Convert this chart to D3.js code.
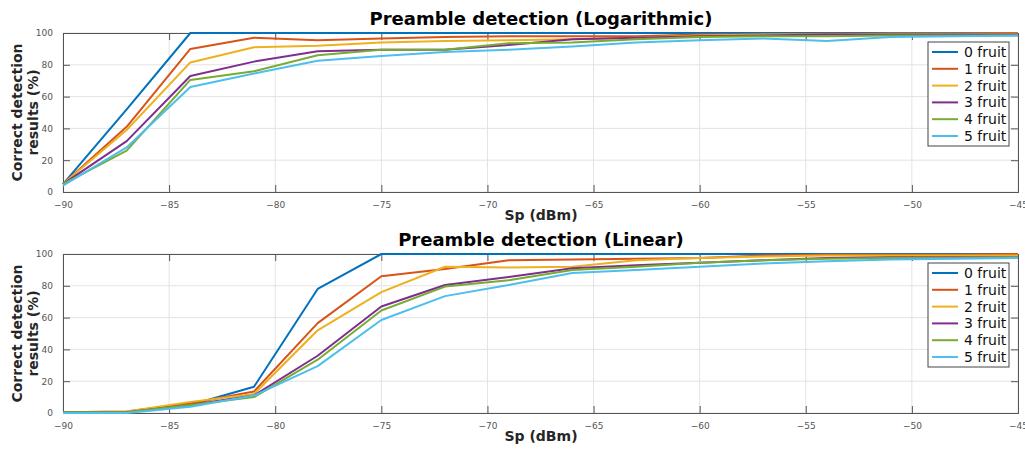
<!DOCTYPE html>
<html lang="en">
<head>
<meta charset="utf-8">
<title>Preamble detection</title>
<style>
  body { margin: 0; background: #fff; }
  svg { display: block; font-family: "DejaVu Sans", sans-serif; }
</style>
</head>
<body>
<svg id="chart"></svg>
<script src="https://d3js.org/d3.v7.min.js"></script>
<script>
// data
var sp = [-90, -87, -84, -81, -78, -75, -72, -69, -66, -63, -60, -57, -54, -51, -48, -45];
var seriesNames = ['0 fruit', '1 fruit', '2 fruit', '3 fruit', '4 fruit', '5 fruit'];
var colors = ['#0072BD', '#D95319', '#EDB120', '#7E2F8E', '#77AC30', '#4DBEEE'];
var xTicks = [-90, -85, -80, -75, -70, -65, -60, -55, -50, -45];
var yTicks = [0, 20, 40, 60, 80, 100];

// logarithmic
var log0 = [5, 52, 100, 100, 100, 100, 100, 100, 100, 100, 100, 100, 100, 100, 100, 100];
var log1 = [5, 41, 90, 97, 95.5, 96.5, 97.5, 98, 98, 98, 99, 99, 99.5, 99.5, 99.5, 100];
var log2 = [5, 39, 81.5, 91, 92, 94, 95, 95.5, 96, 97, 98.5, 99, 99, 99.5, 99.5, 99.5];
var log3 = [5, 32, 73, 82, 88.5, 89.5, 89.5, 92.5, 96, 97, 98, 98.5, 99, 99, 99, 99];
var log4 = [5, 26, 70.5, 76, 86, 89.5, 89.5, 93.5, 94, 96, 97.5, 98, 98, 98.5, 98.5, 98.5];
var log5 = [4, 28, 66, 74.5, 82.5, 85.5, 88, 89.5, 91.5, 94, 95.5, 96.5, 95, 97.5, 98, 98.5];

// linear
var lin0 = [0.5, 0.5, 5, 16.5, 78, 100, 100, 100, 100, 100, 100, 100, 100, 100, 100, 100];
var lin1 = [0.5, 1, 6, 13.5, 56.5, 86, 90.5, 96, 96.5, 97, 97.5, 99, 99.5, 99.5, 99.5, 100];
var lin2 = [0.5, 1, 7, 12, 52, 76, 92, 91.5, 92, 96, 97.5, 98.5, 99, 99, 99, 99];
var lin3 = [0.5, 0.5, 5, 11, 36, 67, 80.5, 85.5, 91, 93, 94.5, 96, 97.5, 98, 98, 98];
var lin4 = [0.5, 0.5, 5, 10, 33.5, 64.5, 79.5, 83.5, 90, 92, 94.5, 96, 97, 97.5, 97.5, 98];
var lin5 = [0, 0, 4, 11, 29.5, 58.5, 73.5, 80.5, 88, 90, 92, 94, 95.5, 96.5, 97, 97.5];

var width = 1025, height = 449;
var svg = d3.select('#chart').attr('width', width).attr('height', height);

function drawPanel(top, title, series) {
  var left = 63, right = 1018, plotTop = top, plotBottom = top + 159;
  var x = d3.scaleLinear().domain([-90, -45]).range([left, right]);
  var y = d3.scaleLinear().domain([0, 100]).range([plotBottom, plotTop]);
  var g = svg.append('g');

  // grid
  g.append('g').selectAll('line.gx').data(xTicks).enter().append('line')
    .attr('x1', function(d) { return x(d); }).attr('x2', function(d) { return x(d); })
    .attr('y1', plotTop).attr('y2', plotBottom)
    .attr('stroke', '#e3e3e3').attr('stroke-width', 1);
  g.append('g').selectAll('line.gy').data(yTicks).enter().append('line')
    .attr('x1', left).attr('x2', right)
    .attr('y1', function(d) { return y(d); }).attr('y2', function(d) { return y(d); })
    .attr('stroke', '#e3e3e3').attr('stroke-width', 1);

  // axes with inward ticks
  var bottomAxis = d3.axisBottom(x).tickValues(xTicks).tickSize(-7).tickPadding(10).tickFormat(d3.format('d'));
  var topAxis = d3.axisTop(x).tickValues(xTicks).tickSize(-7).tickFormat('');
  var leftAxis = d3.axisLeft(y).tickValues(yTicks).tickSize(-7).tickPadding(10);
  var rightAxis = d3.axisRight(y).tickValues(yTicks).tickSize(-7).tickFormat('');

  [[bottomAxis, 'translate(0,' + plotBottom + ')'], [topAxis, 'translate(0,' + plotTop + ')'],
   [leftAxis, 'translate(' + left + ',0)'], [rightAxis, 'translate(' + right + ',0)']].forEach(function(a) {
    var ax = g.append('g').attr('transform', a[1]).call(a[0]);
    ax.select('.domain').attr('stroke', '#555');
    ax.selectAll('.tick line').attr('stroke', '#555');
    ax.selectAll('.tick text').attr('fill', '#555').style('font-size', '9px')
      .style('font-family', '"DejaVu Sans", sans-serif');
  });

  // lines
  var line = d3.line()
    .x(function(d, i) { return x(sp[i]); })
    .y(function(d) { return y(d); });
  g.append('g').selectAll('path.s').data(series).enter().append('path')
    .attr('d', function(d) { return line(d); })
    .attr('fill', 'none')
    .attr('stroke', function(d, i) { return colors[i]; })
    .attr('stroke-width', 2)
    .attr('stroke-linejoin', 'round');

  // title and labels
  g.append('text').attr('x', 541).attr('y', top - 8).attr('text-anchor', 'middle')
    .style('font-size', '18px').style('font-weight', 'bold').text(title);
  g.append('text').attr('x', 541).attr('y', plotBottom + 28).attr('text-anchor', 'middle')
    .style('font-size', '14px').style('font-weight', 'bold').attr('fill', '#262626').text('Sp (dBm)');
  var yl = g.append('text').attr('transform', 'translate(22,' + (plotTop + plotBottom) / 2 + ') rotate(-90)')
    .attr('text-anchor', 'middle').style('font-size', '14px').style('font-weight', 'bold').attr('fill', '#262626');
  yl.append('tspan').attr('x', 0).attr('dy', 0).text('Correct detection');
  yl.append('tspan').attr('x', 0).attr('dy', 16).text('results (%)');

  // legend
  var lx = 928, ly = top + 9;
  var leg = g.append('g');
  leg.append('rect').attr('x', lx).attr('y', ly).attr('width', 81).attr('height', 104)
    .attr('fill', '#fff').attr('stroke', '#444').attr('stroke-width', 1);
  seriesNames.forEach(function(name, i) {
    var cy = ly + 10 + i * 16.8;
    leg.append('line').attr('x1', lx + 4).attr('x2', lx + 30).attr('y1', cy).attr('y2', cy)
      .attr('stroke', colors[i]).attr('stroke-width', 2);
    leg.append('text').attr('x', lx + 36).attr('y', cy + 5).style('font-size', '14px')
      .attr('fill', '#111').text(name);
  });
}

drawPanel(33, 'Preamble detection (Logarithmic)', [log0, log1, log2, log3, log4, log5]);
drawPanel(254, 'Preamble detection (Linear)', [lin0, lin1, lin2, lin3, lin4, lin5]);
</script>
</body>
</html>
